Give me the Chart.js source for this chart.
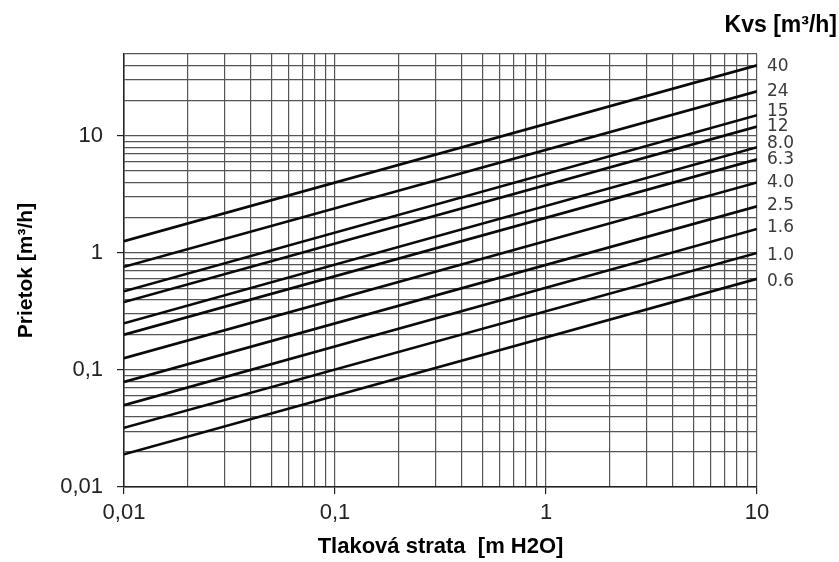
<!DOCTYPE html>
<html>
<head>
<meta charset="utf-8">
<script src="https://cdn.jsdelivr.net/npm/chart.js@4.4.0/dist/chart.umd.min.js"></script>
<style>
  html, body { margin: 0; padding: 0; background: #fff; }
</style>
</head>
<body>
<canvas id="chart" width="839" height="562"></canvas>
<script>
// Kvs curves, flow read at the left (0,01) and right (10) edge of the chart
const kvsLabels = ['40', '24', '15', '12', '8.0', '6.3', '4.0', '2.5', '1.6', '1.0', '0.6'];
const flowAtStart = [1.26, 0.76, 0.47, 0.38, 0.25, 0.2, 0.126, 0.079, 0.05, 0.032, 0.019];
const flowAtEnd = [40, 24, 15, 12, 8, 6.3, 4, 2.5, 1.6, 1.0, 0.6];
const pressureRange = [0.01, 10];

// axis ticks
const xMajorTicks = [0.01, 0.1, 1, 10];
const xTickLabels = ['0,01', '0,1', '1', '10'];
const yMajorTicks = [0.01, 0.1, 1, 10];
const yTickLabels = ['0,01', '0,1', '1', '10'];
const yRange = [0.01, 50];

// 1..9 x 10^n grid
function logTicks(min, max) {
    const out = [];
    for (let e = Math.round(Math.log10(min)); Math.pow(10, e) <= max; e++) {
        for (let m = 1; m <= 9; m++) {
            const v = parseFloat((m * Math.pow(10, e)).toPrecision(6));
            if (v >= min - 1e-12 && v <= max + 1e-9) out.push({ value: v });
        }
    }
    return out;
}

function majorIndex(v, majors) {
    return majors.findIndex(m => Math.abs(m - v) < m * 1e-6);
}

const datasets = kvsLabels.map((label, i) => ({
    label: label,
    data: [
        { x: pressureRange[0], y: flowAtStart[i] },
        { x: pressureRange[1], y: flowAtEnd[i] }
    ],
    borderColor: '#0a0a0a',
    borderWidth: 2.6,
    pointRadius: 0,
    fill: false
}));

// Kvs labels next to line ends + header
const kvsLabelPlugin = {
    id: 'kvsLabels',
    afterDatasetsDraw(chart) {
        const ctx = chart.ctx;
        const y = chart.scales.y;
        const area = chart.chartArea;
        const nudge = [1, 0, -4, 0, -4, 0, 0, -1, -1, 3, 3];
        ctx.save();
        ctx.fillStyle = '#3a3a3a';
        ctx.font = '17px "DejaVu Sans"';
        ctx.textAlign = 'left';
        ctx.textBaseline = 'middle';
        kvsLabels.forEach((label, i) => {
            ctx.fillText(label, area.right + 10, y.getPixelForValue(flowAtEnd[i]) + nudge[i]);
        });
        ctx.fillStyle = '#000';
        ctx.font = 'bold 23px "Liberation Sans", Arial, sans-serif';
        ctx.textAlign = 'right';
        ctx.fillText('Kvs [m³/h]', 837, 26);
        ctx.restore();
    }
};

new Chart(document.getElementById('chart'), {
    type: 'line',
    data: { datasets: datasets },
    options: {
        responsive: false,
        animation: false,
        layout: { padding: { top: 54, right: 82, left: 14, bottom: 2 } },
        plugins: {
            legend: { display: false },
            tooltip: { enabled: false }
        },
        scales: {
            x: {
                type: 'logarithmic',
                min: pressureRange[0],
                max: pressureRange[1],
                afterBuildTicks: s => { s.ticks = logTicks(pressureRange[0], pressureRange[1]); },
                afterFit: s => { s.height = 73; },
                grid: {
                    color: '#555',
                    lineWidth: 1.2,
                    tickLength: 7,
                    tickColor: c => majorIndex(c.tick.value, xMajorTicks) >= 0 ? '#222' : 'rgba(0,0,0,0)'
                },
                border: { display: true, color: '#222', width: 1.5 },
                ticks: {
                    autoSkip: false,
                    maxRotation: 0,
                    padding: 6,
                    color: '#222',
                    font: { family: '"Liberation Sans", Arial, sans-serif', size: 22 },
                    callback: v => {
                        const k = majorIndex(v, xMajorTicks);
                        return k >= 0 ? xTickLabels[k] : '';
                    }
                },
                title: {
                    display: true,
                    text: 'Tlaková strata  [m H2O]',
                    color: '#000',
                    padding: 0,
                    font: { family: '"Liberation Sans", Arial, sans-serif', size: 22, weight: 'bold' }
                }
            },
            y: {
                type: 'logarithmic',
                min: yRange[0],
                max: yRange[1],
                afterBuildTicks: s => { s.ticks = logTicks(yRange[0], yRange[1]); },
                afterFit: s => { s.width = 110; },
                grid: {
                    color: '#555',
                    lineWidth: 1.2,
                    tickLength: 7,
                    tickColor: c => majorIndex(c.tick.value, yMajorTicks) >= 0 ? '#222' : 'rgba(0,0,0,0)'
                },
                border: { display: true, color: '#222', width: 1.5 },
                ticks: {
                    autoSkip: false,
                    padding: 14,
                    color: '#222',
                    font: { family: '"Liberation Sans", Arial, sans-serif', size: 22 },
                    callback: v => {
                        const k = majorIndex(v, yMajorTicks);
                        return k >= 0 ? yTickLabels[k] : '';
                    }
                },
                title: {
                    display: true,
                    text: 'Prietok [m³/h]',
                    color: '#000',
                    padding: 0,
                    font: { family: '"Liberation Sans", Arial, sans-serif', size: 21, weight: 'bold' }
                }
            }
        }
    },
    plugins: [kvsLabelPlugin]
});
</script>
</body>
</html>
